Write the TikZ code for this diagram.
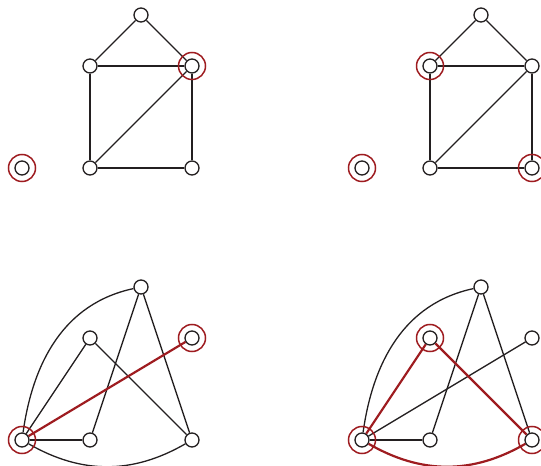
\documentclass[tikz,border=0pt]{standalone}
\usepackage{tikz}
\definecolor{ringred}{RGB}{158,28,32}
\definecolor{inkgray}{RGB}{35,31,32}
\tikzset{
  vtx/.style={circle,draw=inkgray,fill=white,line width=1.3pt,minimum size=14pt,inner sep=0pt},
  ed/.style={draw=inkgray,line width=1.3pt},
  hl/.style={draw=ringred,line width=2.2pt},
  ring/.style={draw=ringred,line width=1.5pt},
}
\begin{document}
\begin{tikzpicture}[x=1pt,y=1pt]
\useasboundingbox (0,0) rectangle (541,466);
% top left
\node[vtx] (tlT) at (141,451) {};
\node[vtx] (tlL) at (90,400) {};
\node[vtx] (tlR) at (192,400) {};
\node[vtx] (tlP) at (90,298) {};
\node[vtx] (tlQ) at (192,298) {};
\node[vtx] (tlI) at (22,298) {};
\draw[ed] (tlT) -- (tlL);
\draw[ed] (tlT) -- (tlR);
\draw[ed] (tlL) -- (tlR);
\draw[ed] (tlL) -- (tlP);
\draw[ed] (tlR) -- (tlQ);
\draw[ed] (tlP) -- (tlQ);
\draw[ed] (tlP) -- (tlR);
\draw[ring] (tlR) circle (13.5);
\draw[ring] (tlI) circle (13.5);
% top right
\node[vtx] (trT) at (481,451) {};
\node[vtx] (trL) at (430,400) {};
\node[vtx] (trR) at (532,400) {};
\node[vtx] (trP) at (430,298) {};
\node[vtx] (trQ) at (532,298) {};
\node[vtx] (trI) at (362,298) {};
\draw[ed] (trT) -- (trL);
\draw[ed] (trT) -- (trR);
\draw[ed] (trL) -- (trR);
\draw[ed] (trL) -- (trP);
\draw[ed] (trR) -- (trQ);
\draw[ed] (trP) -- (trQ);
\draw[ed] (trP) -- (trR);
\draw[ring] (trL) circle (13.5);
\draw[ring] (trQ) circle (13.5);
\draw[ring] (trI) circle (13.5);
% bottom left
\node[vtx] (blA) at (22,26) {};
\node[vtx] (blB) at (90,128) {};
\node[vtx] (blC) at (141,179) {};
\node[vtx] (blD) at (192,128) {};
\node[vtx] (blE) at (90,26) {};
\node[vtx] (blF) at (192,26) {};
\draw[ed] (blA) to[out=82,in=192] (blC);
\draw[ed] (blA) to[out=-30,in=-150] (blF);
\draw[ed] (blA) -- (blB);
\draw[ed] (blA) -- (blE);
\draw[ed] (blB) -- (blF);
\draw[ed] (blC) -- (blE);
\draw[ed] (blC) -- (blF);
\draw[hl] (blA) -- (blD);
\draw[ring] (blA) circle (13.5);
\draw[ring] (blD) circle (13.5);
% bottom right
\node[vtx] (brA) at (362,26) {};
\node[vtx] (brB) at (430,128) {};
\node[vtx] (brC) at (481,179) {};
\node[vtx] (brD) at (532,128) {};
\node[vtx] (brE) at (430,26) {};
\node[vtx] (brF) at (532,26) {};
\draw[ed] (brA) to[out=82,in=192] (brC);
\draw[ed] (brA) -- (brE);
\draw[ed] (brA) -- (brD);
\draw[ed] (brC) -- (brE);
\draw[ed] (brC) -- (brF);
\draw[hl] (brA) to[out=-30,in=-150] (brF);
\draw[hl] (brA) -- (brB);
\draw[hl] (brB) -- (brF);
\draw[ring] (brA) circle (13.5);
\draw[ring] (brB) circle (13.5);
\draw[ring] (brF) circle (13.5);
\end{tikzpicture}
\end{document}
